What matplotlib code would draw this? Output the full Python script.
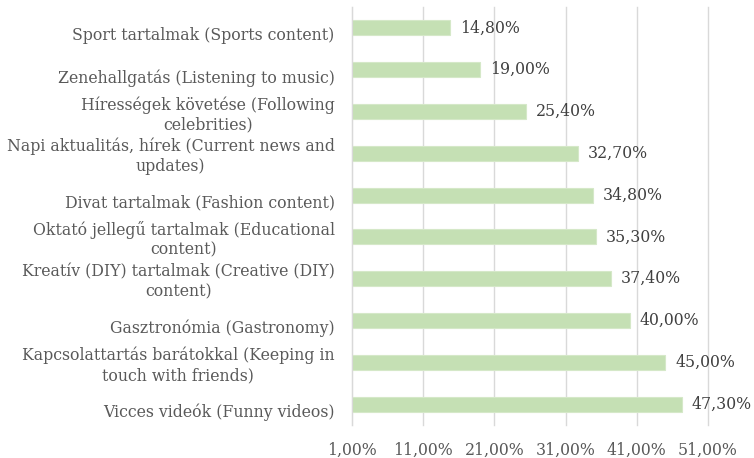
import matplotlib
matplotlib.use('Agg')
from matplotlib import pyplot as plt
from matplotlib.ticker import FixedLocator

categories = [
    'Sport tartalmak (Sports content)',
    'Zenehallgatás (Listening to music)',
    'Hírességek követése (Following\ncelebrities)',
    'Napi aktualitás, hírek (Current news and\nupdates)',
    'Divat tartalmak (Fashion content)',
    'Oktató jellegű tartalmak (Educational\ncontent)',
    'Kreatív (DIY) tartalmak (Creative (DIY)\ncontent)',
    'Gasztronómia (Gastronomy)',
    'Kapcsolattartás barátokkal (Keeping in\ntouch with friends)',
    'Vicces videók (Funny videos)',
]
values = [14.8, 19.0, 25.4, 32.7, 34.8, 35.3, 37.4, 40.0, 45.0, 47.3]
xticks = [1, 11, 21, 31, 41, 51]

plt.rcParams['font.family'] = ['DejaVu Serif']
text_col = '#595959'
fs = 11.3

fig = plt.figure(figsize=(7.54, 4.58), dpi=100)
ax = fig.add_axes([352/754, 33/458, 356/754, 418/458])

y = list(range(len(categories)))
ax.barh(y, [v - 1 for v in values], left=1, height=0.36, color='#C5E0B4',
        edgecolor='#D5E8C8', linewidth=0.8, zorder=3)
for yi, v in zip(y, values):
    ax.annotate(f'{v:.2f}%'.replace('.', ','), (v, yi), xytext=(7, 0),
                textcoords='offset points', va='center', ha='left',
                fontsize=fs, color='#404040', annotation_clip=False)

# category labels: excel puts one-line labels a bit low in their slot
for yi, lab in zip(y, categories):
    dy = -2.2 if '\n' in lab else -5.8
    ax.annotate(lab, (0, yi), xycoords=('axes fraction', 'data'),
                xytext=(-12.5, dy), textcoords='offset points',
                ha='right', va='center', multialignment='center',
                fontsize=fs, color=text_col, annotation_clip=False)

ax.set_xlim(1, 51)
ax.set_ylim(len(categories) - 0.5, -0.5)
ax.xaxis.set_major_locator(FixedLocator(xticks))
ax.set_xticklabels([f'{t:.2f}%'.replace('.', ',') for t in xticks])
ax.set_yticks(y)
ax.set_yticklabels([])
ax.tick_params(axis='both', length=0, labelsize=fs, labelcolor=text_col)
ax.tick_params(axis='x', pad=12)
ax.grid(axis='x', color='#D9D9D9', linewidth=1, zorder=0)
for gl in ax.get_xgridlines():
    gl.set_clip_on(False)
for s in ['top', 'right', 'bottom']:
    ax.spines[s].set_visible(False)
ax.spines['left'].set_color('#D9D9D9')
ax.spines['left'].set_zorder(4)

fig.savefig('out.png', dpi=100)
